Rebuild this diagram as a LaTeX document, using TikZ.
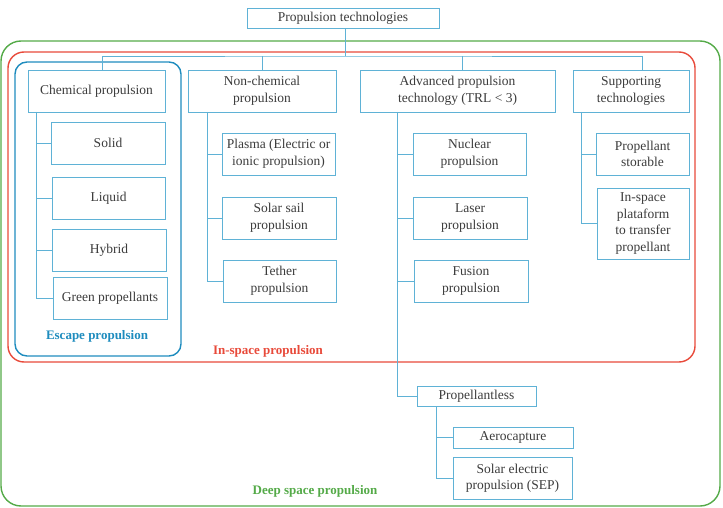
\documentclass[tikz,border=0pt]{standalone}
\usepackage{fontspec}
\setmainfont{Liberation Serif}
\definecolor{boxblue}{RGB}{95,178,214}
\definecolor{escblue}{RGB}{30,140,190}
\definecolor{inred}{RGB}{232,74,58}
\definecolor{deepgreen}{RGB}{84,170,72}
\definecolor{txtgray}{RGB}{60,60,60}
\tikzset{
  box/.style={draw=boxblue, line width=0.8pt, fill=white, text=txtgray, align=center,
    inner sep=1pt, font=\fontsize{13.5}{16.5}\selectfont},
  link/.style={draw=boxblue, line width=0.8pt},
  area/.style={line width=1.4pt},
  arealabel/.style={font=\fontsize{13}{16}\selectfont\bfseries}
}
\begin{document}
\begin{tikzpicture}[x=1pt,y=-1pt]
            \useasboundingbox (0,0) rectangle (723,508);
            % Zonas
            \draw[area,deepgreen,rounded corners=20] (1,41) rectangle (720,506);
            \draw[area,inred,rounded corners=16] (8,52) rectangle (695,362);
            \draw[area,escblue,rounded corners=12] (15,62) rectangle (181,356);
            \node[arealabel,escblue] (esclab) at (97,336) {Escape propulsion};
            \node[arealabel,inred] (inlab) at (268,351) {In-space propulsion};
            \node[arealabel,deepgreen] (deeplab) at (315,491) {Deep space propulsion};

            % Nivel superior
            \node[box,minimum width=192,minimum height=20] (top) at (343,18.5) {Propulsion technologies};
            \node[box,minimum width=137,minimum height=42] (chem) at (96.5,91) {Chemical propulsion};
            \node[box,minimum width=148,minimum height=42] (nonchem) at (262,91) {Non-chemical\\propulsion};
            \node[box,minimum width=195,minimum height=42] (adv) at (457.5,91) {Advanced propulsion\\technology (TRL < 3)};
            \node[box,minimum width=116,minimum height=42] (supp) at (631,91) {Supporting\\technologies};

            % Química
            \node[box,minimum width=114,minimum height=42] (solid) at (108,143) {Solid};
            \node[box,minimum width=113,minimum height=42] (liquid) at (108.5,198) {Liquid};
            \node[box,minimum width=114,minimum height=42] (hybrid) at (109,250) {Hybrid};
            \node[box,minimum width=114,minimum height=42] (green) at (110,298) {Green propellants};

            % No química
            \node[box,minimum width=113,minimum height=42] (plasma) at (278.5,154) {Plasma (Electric or\\ionic propulsion)};
            \node[box,minimum width=114,minimum height=42] (sail) at (279,218) {Solar sail\\propulsion};
            \node[box,minimum width=113,minimum height=42] (tether) at (279.5,281) {Tether\\propulsion};

            % Avanzada
            \node[box,minimum width=113,minimum height=42] (nuclear) at (469.5,154) {Nuclear\\propulsion};
            \node[box,minimum width=114,minimum height=42] (laser) at (470,218) {Laser\\propulsion};
            \node[box,minimum width=114,minimum height=42] (fusion) at (471,281) {Fusion\\propulsion};
            \node[box,minimum width=119,minimum height=20] (propless) at (476.5,396) {Propellantless};
            \node[box,minimum width=120,minimum height=21] (aero) at (513,437.5) {Aerocapture};
            \node[box,minimum width=119,minimum height=42] (sep) at (512.5,478) {Solar electric\\propulsion (SEP)};

            % Soporte
            \node[box,minimum width=93,minimum height=42] (storable) at (642.5,154) {Propellant\\storable};
            \node[box,minimum width=92,minimum height=71] (inspace) at (643,223.5) {In-space\\plataform\\to transfer\\propellant};

            % Conexiones
            \coordinate (bus) at (345,56);
            \coordinate (chemT) at (36,112);
            \coordinate (nonchemT) at (207,112);
            \coordinate (advT) at (397,112);
            \coordinate (suppT) at (581,112);
            \coordinate (proplessT) at (436,406);
            \draw[link] (top.south -| bus) -- (bus);
            \draw[link] (102,70) |- (bus) -| (642,70);
            \draw[link] (nonchem.north) -- (nonchem.north |- bus);
            \draw[link] (462,70) -- (462,56);

            \draw[link] (chemT) |- (green.west);
            \foreach \n in {solid,liquid,hybrid}
                \draw[link] (chemT |- \n.west) -- (\n.west);
            \draw[link] (nonchemT) |- (tether.west);
            \foreach \n in {plasma,sail}
                \draw[link] (nonchemT |- \n.west) -- (\n.west);
            \draw[link] (advT) |- (propless.west);
            \foreach \n in {nuclear,laser,fusion}
                \draw[link] (advT |- \n.west) -- (\n.west);
            \draw[link] (suppT) |- (inspace.west);
            \draw[link] (suppT |- storable.west) -- (storable.west);
            \draw[link] (proplessT) |- (sep.west);
            \draw[link] (proplessT |- aero.west) -- (aero.west);
        \end{tikzpicture}
\end{document}
